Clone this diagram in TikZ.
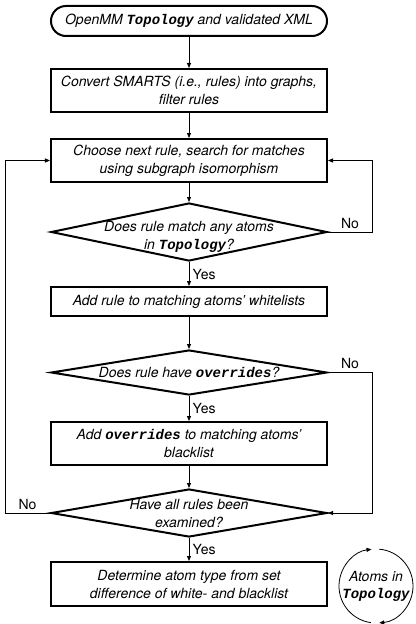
\documentclass[tikz,border=0pt]{standalone}
\usepackage{fontspec}
\setmainfont{TeX Gyre Heros}
\setmonofont{Liberation Mono}
\usetikzlibrary{positioning,shapes.geometric,arrows.meta}
\newcommand{\code}[1]{\texttt{\textbf{#1}}}
% text set a little lower inside a diamond
\newcommand{\lowtext}[2]{\raisebox{-#1}[\height][\depth]{\begin{tabular}{@{}c@{}}#2\end{tabular}}}
\tikzset{
    flow-box/.style = {draw, line width=2bp, rectangle, minimum width=276bp, inner xsep=2bp, align=center, font=\fontsize{14bp}{18bp}\selectfont\itshape},
    start-box/.style = {flow-box, rounded corners=15bp, minimum height=30bp},
    decision/.style = {flow-box, diamond, aspect=5, inner xsep=-40bp, inner ysep=-5bp},
    flow-line/.style = {-{Triangle[length=5bp, width=4bp]}, line width=0.8bp},
    side-label/.style = {font=\fontsize{14bp}{18bp}\selectfont},
}

\begin{document}
\begin{tikzpicture}[x=1bp, y=1bp]
\useasboundingbox (0,0) rectangle (415,-624);
\node[start-box] (start) at (189,-21) {OpenMM \code{Topology} and validated XML};
\node[flow-box, minimum height=43bp, below=31bp of start] (convert) {Convert SMARTS (i.e., rules) into graphs,\\ filter rules};
\node[flow-box, minimum height=43bp, below=25bp of convert] (choose) {Choose next rule, search for matches\\ using subgraph isomorphism};
\node[decision, minimum height=58bp, below=19bp of choose] (match) {\lowtext{5bp}{Does rule match any atoms\\ in \code{Topology}?}};
\node[flow-box, minimum height=29bp, below=24bp of match] (whitelist) {Add rule to matching atoms' whitelists};
\node[decision, minimum height=45bp, below=32bp of whitelist] (overrides) {Does rule have \code{overrides}?};
\node[flow-box, minimum height=43bp, below=25bp of overrides] (blacklist) {Add \code{overrides} to matching atoms'\\ blacklist};
\node[decision, minimum height=48bp, below=22bp of blacklist] (examined) {\lowtext{2bp}{Have all rules been\\ examined?}};
\node[flow-box, minimum height=44bp, below=23bp of examined] (result) {Determine atom type from set\\ difference of white- and blacklist};

\draw[flow-line] (start) -- (convert);
\draw[flow-line] (convert) -- (choose);
\draw[flow-line] (choose) -- (match);
\draw[flow-line] (match) -- node[side-label, right] {Yes} (whitelist);
\draw[flow-line] (match.east) -- node[side-label, above] {No} ++(44,0) |- (choose.east);
\draw[flow-line] (whitelist) -- (overrides);
\draw[flow-line] (overrides) -- node[side-label, right] {Yes} (blacklist);
\draw[flow-line] (overrides.east) -- node[side-label, above] {No} ++(44,0) |- (examined.east);
\draw[flow-line] (blacklist) -- (examined);
\draw[flow-line] (examined) -- node[side-label, right] {Yes} (result);
\draw[flow-line] (examined.west) -- node[side-label, above] {No} ++(-45,0) |- (choose.west);

% atoms loop
\node[align=center, font=\fontsize{14bp}{17bp}\selectfont\itshape] (atoms) at (376,-586) {Atoms in\\ \code{Topology}};
\draw[flow-line] ([shift={(262:37)}]atoms.center) arc[start angle=262, end angle=97, radius=37];
\draw[flow-line] ([shift={(85:37)}]atoms.center) arc[start angle=85, end angle=-85, radius=37];
\end{tikzpicture}
\end{document}
